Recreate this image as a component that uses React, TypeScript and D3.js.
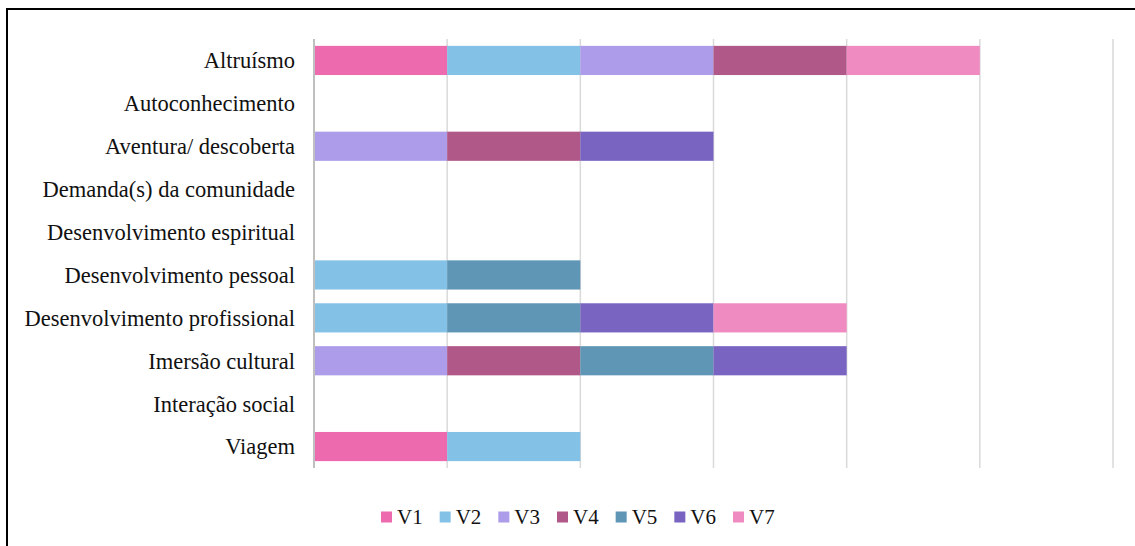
import React from 'react';
import * as d3 from 'd3';

// categories on the y axis (top to bottom)
const categories = [
  'Altruísmo',
  'Autoconhecimento',
  'Aventura/ descoberta',
  'Demanda(s) da comunidade',
  'Desenvolvimento espiritual',
  'Desenvolvimento pessoal',
  'Desenvolvimento profissional',
  'Imersão cultural',
  'Interação social',
  'Viagem',
];

const seriesNames = ['V1', 'V2', 'V3', 'V4', 'V5', 'V6', 'V7'];

// one value per category, same order as categories
const v1 = [1, 0, 0, 0, 0, 0, 0, 0, 0, 1];
const v2 = [1, 0, 0, 0, 0, 1, 1, 0, 0, 1];
const v3 = [1, 0, 1, 0, 0, 0, 0, 1, 0, 0];
const v4 = [1, 0, 1, 0, 0, 0, 0, 1, 0, 0];
const v5 = [0, 0, 0, 0, 0, 1, 1, 1, 0, 0];
const v6 = [0, 0, 1, 0, 0, 0, 1, 1, 0, 0];
const v7 = [1, 0, 0, 0, 0, 0, 1, 0, 0, 0];

const xTicks = [0, 1, 2, 3, 4, 5, 6];

const colors = ['#ee6aaf', '#84c1e6', '#ac9cea', '#b05887', '#5f96b5', '#7965c1', '#f08bc1'];

const W = 1135;
const H = 546;
const FONT = 'Liberation Serif, DejaVu Serif, serif';

export default function App() {
  const seriesValues = [v1, v2, v3, v4, v5, v6, v7];
  const rows = categories.map((c, i) => {
    const row: any = { cat: c };
    seriesNames.forEach((s, j) => { row[s] = seriesValues[j][i]; });
    return row;
  });
  const stacked = d3.stack().keys(seriesNames)(rows);

  const x = d3.scaleLinear().domain([0, 6]).range([314, 1113]);
  const y = d3.scaleBand().domain(categories).range([39, 468]).paddingInner(0.32).paddingOuter(0.16);

  const legendX = d3.scaleLinear().domain([0, seriesNames.length - 1]).range([381, 733]);

  return (
    <div style={{ position: 'absolute', left: 0, top: 0, background: '#fff' }}>
      <svg width={W} height={H} style={{ display: 'block' }}>
        <rect x={0} y={0} width={W} height={H} fill="#fff" />
        <rect x={7} y={9} width={W + 10} height={H + 10} fill="none" stroke="#000" strokeWidth={2} />

        {/* grid */}
        <g>
          {xTicks.slice(1).map(t => (
            <line key={t} x1={x(t)} x2={x(t)} y1={39} y2={468} stroke="#d9d9d9" strokeWidth={1.5} />
          ))}
        </g>

        {/* bars */}
        <g>
          {stacked.map((layer, j) => (
            <g key={layer.key} fill={colors[j]}>
              {layer.map((d, i) =>
                d[1] - d[0] > 0 ? (
                  <rect
                    key={i}
                    x={x(d[0])}
                    y={y(categories[i])}
                    width={x(d[1]) - x(d[0])}
                    height={y.bandwidth()}
                  />
                ) : null
              )}
            </g>
          ))}
        </g>

        {/* axis line */}
        <line x1={x(0)} x2={x(0)} y1={39} y2={468} stroke="#bfbfbf" strokeWidth={2} />

        {/* category labels */}
        <g fontSize={22.5} fill="#111" textAnchor="end" fontFamily={FONT}>
          {categories.map(c => (
            <text key={c} x={295} y={(y(c) as number) + y.bandwidth() / 2} dy="0.35em">
              {c}
            </text>
          ))}
        </g>

        {/* legend */}
        <g fontSize={21} fill="#111" fontFamily={FONT}>
          {seriesNames.map((s, j) => (
            <g key={s} transform={`translate(${legendX(j)},517)`}>
              <rect x={0} y={-5.5} width={11} height={11} fill={colors[j]} />
              <text x={16} y={0} dy="0.35em">{s}</text>
            </g>
          ))}
        </g>
      </svg>
    </div>
  );
}
